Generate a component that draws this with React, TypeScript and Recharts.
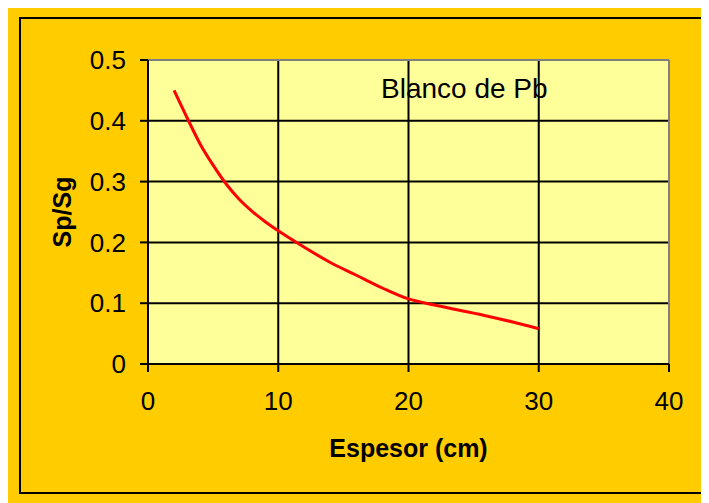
import React from 'react';
import { LineChart, Line, XAxis, YAxis, CartesianGrid, ReferenceLine } from 'recharts';

const espesor = [2, 3, 4, 5, 6, 7, 8, 9, 10, 12, 14, 16, 18, 20, 22, 24, 26, 28, 30];
const spsg = [0.45, 0.405, 0.362, 0.327, 0.296, 0.271, 0.251, 0.234, 0.219, 0.192, 0.167, 0.146, 0.125, 0.107, 0.097, 0.088, 0.079, 0.069, 0.058];
const xTicks = [0, 10, 20, 30, 40];
const yTicks = [0, 0.1, 0.2, 0.3, 0.4, 0.5];
const seriesLabel = 'Blanco de Pb';
const xTitle = 'Espesor (cm)';
const yTitle = 'Sp/Sg';

const data = espesor.map((x, i) => ({ x, y: spsg[i] }));

const FONT = '"Liberation Sans", Arial, sans-serif';

export default function App() {
  return (
    <div style={{ position: 'relative', width: 701, height: 495, background: '#FFCC00', fontFamily: FONT }}>
      <LineChart
        width={701}
        height={495}
        data={data}
        margin={{ top: 52, right: 40, bottom: 0, left: 0 }}
      >
        <CartesianGrid
          fill="#FFFF99"
          stroke="#000"
          strokeWidth={2}
          horizontalValues={[0.1, 0.2, 0.3, 0.4]}
          verticalValues={[10, 20, 30]}
        />
        <ReferenceLine y={0.5} stroke="#808080" strokeWidth={2} />
        <ReferenceLine x={40} stroke="#808080" strokeWidth={2} />
        <XAxis
          dataKey="x"
          type="number"
          domain={[0, 40]}
          ticks={xTicks}
          height={139}
          stroke="#000"
          strokeWidth={2}
          tickSize={8}
          tickMargin={20}
          tick={{ fill: '#000', fontSize: 26, fontFamily: FONT }}
          label={{ value: xTitle, position: 'insideBottom', offset: 46, style: { fontSize: 25, fontWeight: 'bold', fill: '#000', fontFamily: FONT } }}
        />
        <YAxis
          type="number"
          domain={[0, 0.5]}
          ticks={yTicks}
          width={140}
          stroke="#000"
          strokeWidth={2}
          tickSize={8}
          tickMargin={14}
          tickFormatter={(v: number) => (v === 0 ? '0' : String(Math.round(v * 10) / 10))}
          tick={{ fill: '#000', fontSize: 26, fontFamily: FONT }}
          label={{ value: yTitle, angle: -90, position: 'insideLeft', offset: 54, style: { textAnchor: 'middle', fontSize: 25, fontWeight: 'bold', fill: '#000', fontFamily: FONT } }}
        />
        <Line
          type="monotone"
          dataKey="y"
          stroke="#FF0000"
          strokeWidth={3}
          dot={false}
          isAnimationActive={false}
        />
        <text x={373} y={90} fontSize={28} fill="#000" fontFamily={FONT}>{seriesLabel}</text>
      </LineChart>
      <div
        style={{
          position: 'absolute',
          left: 11,
          top: 9,
          width: 686,
          height: 477,
          border: '2px solid #000',
          boxSizing: 'border-box',
          pointerEvents: 'none',
        }}
      />
    </div>
  );
}
